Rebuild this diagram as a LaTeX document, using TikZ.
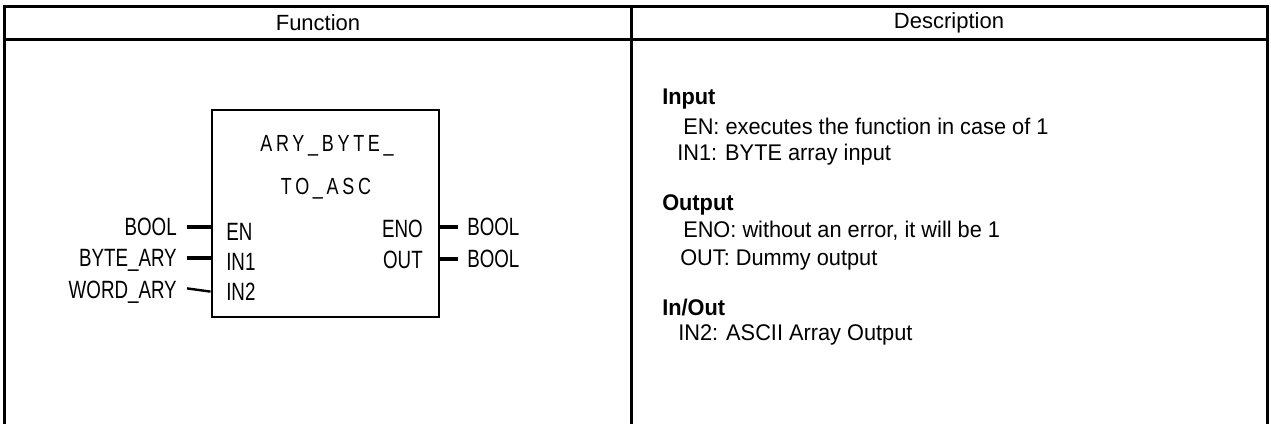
\documentclass[tikz,border=0pt]{standalone}
\usepackage{fontspec}
\setmainfont{Liberation Sans}
\newfontfamily\descfont[FakeStretch=0.96]{Liberation Sans}
\newfontfamily\pinfont[FakeStretch=0.75]{Liberation Sans}
\newfontfamily\titlefont[FakeStretch=0.77,LetterSpace=16]{Liberation Sans}
\usetikzlibrary{positioning}

\begin{document}
\begin{tikzpicture}[x=0.75pt, y=-0.75pt,
  rule/.style={line width=2.25pt},
  pin/.style={line width=2.6pt},
  pinlabel/.style={font=\pinfont\fontsize{18.75}{20}\selectfont, inner sep=0pt,
    text height=13.4pt, text depth=0pt},
  boxtitle/.style={font=\titlefont\fontsize{17.5}{20}\selectfont, inner sep=0pt,
    text height=12.5pt, text depth=0pt},
  headtext/.style={font=\fontsize{16.5}{19}\selectfont, inner sep=0pt},
  desc/.style={anchor=base west, inner sep=0pt, font=\descfont\fontsize{17}{20}\selectfont},
  deschead/.style={desc, font=\descfont\bfseries\fontsize{17}{20}\selectfont}]
  \useasboundingbox (0,0) rectangle (1271,424);
  % table
  \draw[rule] (4.5,424) -- (4.5,6.5) -- (1267.5,6.5) -- (1267.5,424);
  \draw[rule] (3,39.5) -- (1269,39.5);
  \draw[rule] (631,6.5) -- (631,424);
  \node[headtext] (hfun) at (318,23) {Function};
  \node[headtext] (hdesc) at (949,23) {Description};

  % function block
  \node[draw, line width=1.5pt, minimum width=170.25pt, minimum height=155.25pt,
    inner sep=0pt] (fb) at (325,213.5) {};
  \node[boxtitle] (ttl1) at (327,143) {ARY\_BYTE\_};
  \node[boxtitle] (ttl2) at (326,186) {TO\_ASC};

  \node[pinlabel, anchor=east] (tbool) at (177,227) {BOOL};
  \node[pinlabel, anchor=east] (tbyte) at (177,258) {BYTE\_ARY};
  \node[pinlabel, anchor=east] (tword) at (177,290) {WORD\_ARY};
  \node[pinlabel, anchor=west] (ien) at (226,232) {EN};
  \node[pinlabel, anchor=west] (iin1) at (226,262) {IN1};
  \node[pinlabel, anchor=west] (iin2) at (226,292) {IN2};
  \node[pinlabel, anchor=east] (oeno) at (423,229) {ENO};
  \node[pinlabel, anchor=east] (oout) at (423,260) {OUT};
  \node[pinlabel, anchor=west] (rbool1) at (467,227) {BOOL};
  \node[pinlabel, anchor=west] (rbool2) at (467,259) {BOOL};

  \draw[pin] ([xshift=7.5pt]tbool.east) -- (tbool.east -| fb.west);
  \draw[pin] ([xshift=7.5pt]tbyte.east) -- (tbyte.east -| fb.west);
  \draw[line width=1.8pt] ([xshift=7.5pt,yshift=1.2pt]tword.east)
    -- ([yshift=-1.2pt]tword.east -| fb.west);
  \draw[pin] (fb.east |- rbool1.west) -- ([xshift=-6.5pt]rbool1.west);
  \draw[pin] (fb.east |- rbool2.west) -- ([xshift=-6.5pt]rbool2.west);

  % description
  \node[deschead] (din) at (662,105) {Input};
  \node[desc] (den) at (683,135) {EN: executes the function in case of 1};
  \node[desc] (din1) at (677,161) {IN1: BYTE array input};
  \node[deschead] (dout) at (662,211) {Output};
  \node[desc] (deno) at (683,238) {ENO: without an error, it will be 1};
  \node[desc] (doout) at (680,265) {OUT: Dummy output};
  \node[deschead] (dio) at (662,315) {In/Out};
  \node[desc] (din2) at (678,340) {IN2: ASCII Array Output};
\end{tikzpicture}
\end{document}
